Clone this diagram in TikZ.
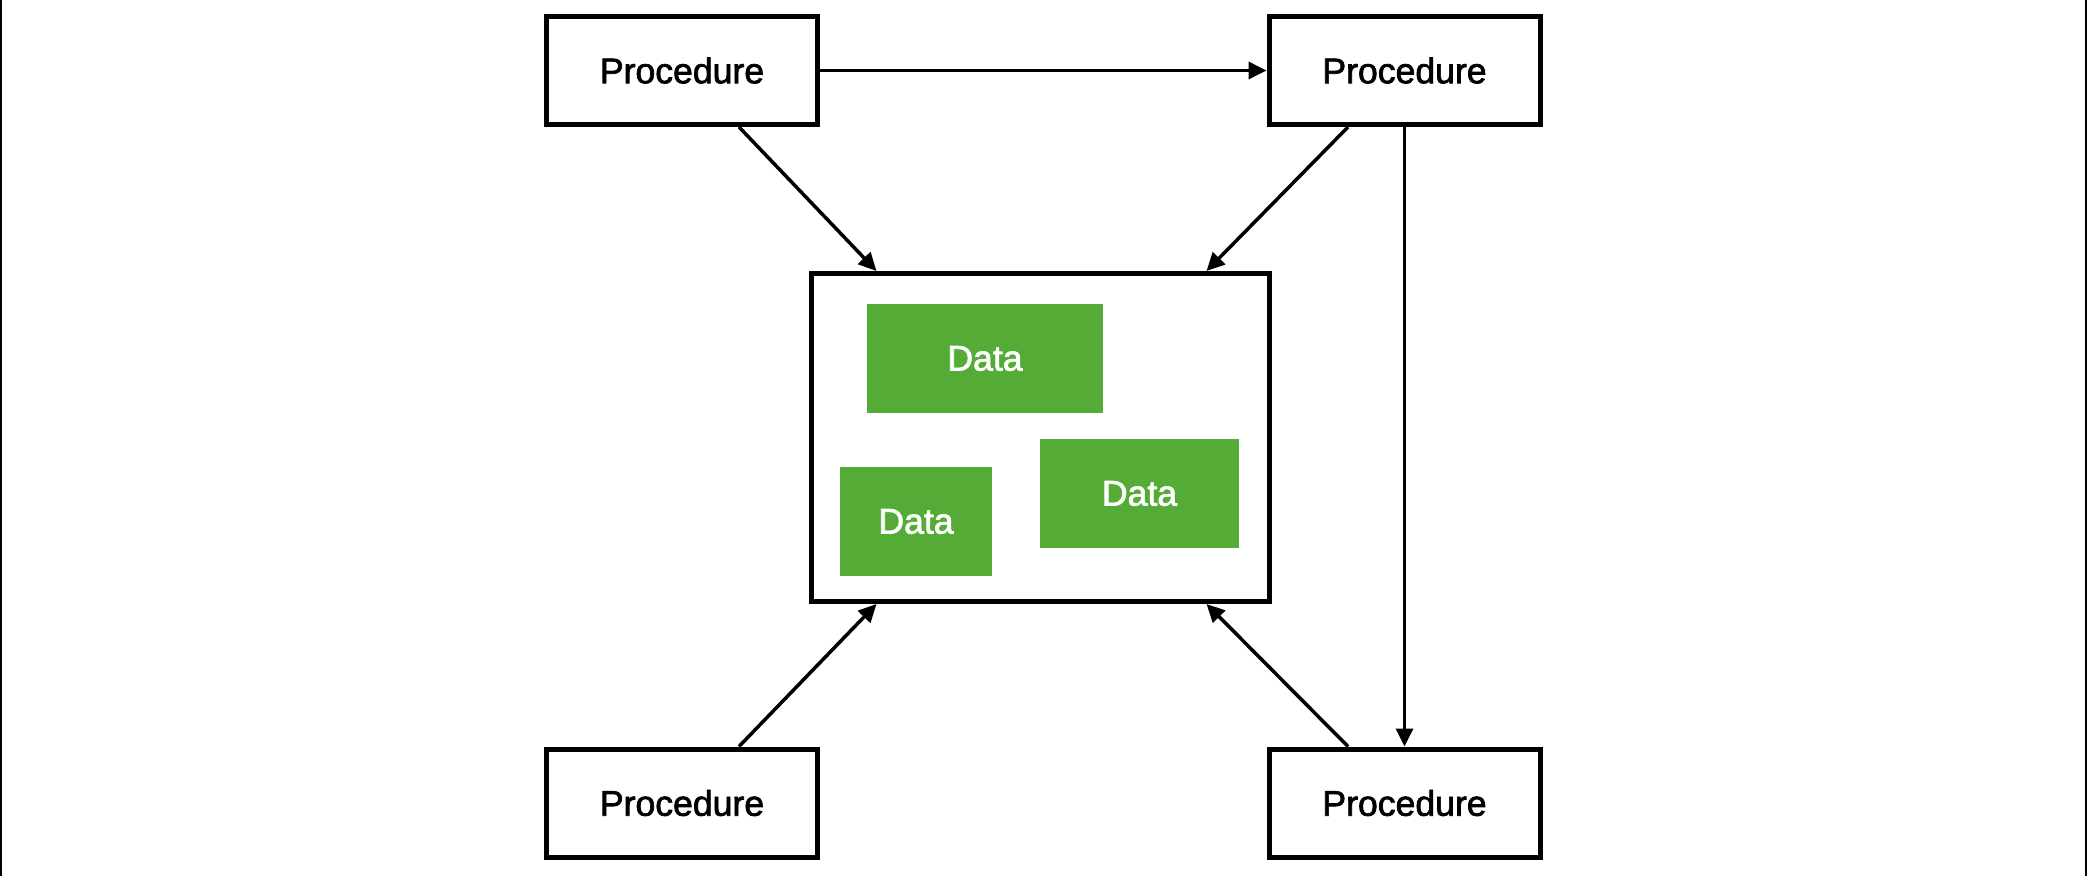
\documentclass[tikz,border=0pt]{standalone}
\usepackage{fontspec}
\usepackage{xcolor}
\usepackage{tikz}
\usetikzlibrary{arrows.meta}
\setmainfont{Liberation Sans}
\newfontfamily\labelfamily{Liberation Sans}[FakeBold=2]
\definecolor{datagreen}{RGB}{84,172,54}
\newcommand{\boxfont}{\labelfamily\fontsize{17.8}{21}\selectfont}

\begin{document}
\begin{tikzpicture}[x=0.5pt,y=-0.5pt]
\tikzstyle{every node}+=[inner sep=0pt]
\tikzstyle{proc}=[draw=black, line width=2.5pt, minimum width=135.5pt, minimum height=54pt, font=\boxfont]
\tikzstyle{data}=[fill=datagreen, text=white, minimum height=54.5pt, font=\boxfont]
\tikzstyle{link}=[black, line width=1.75pt, -{Triangle[length=9pt,width=8.5pt]}]
\useasboundingbox (0,0) rectangle (2087,876);
\draw [black, line width=1pt] (1,0) -- (1,876);
\draw [black, line width=1pt] (2086,0) -- (2086,876);
% procedures
\node [proc] (p1) at (682,70.5) {Procedure};
\node [proc] (p2) at (1404.5,70.5) {Procedure};
\node [proc] (p3) at (682,803) {Procedure};
\node [proc] (p4) at (1404.5,803) {Procedure};
% shared store
\node [draw=black, line width=2.5pt, minimum width=229pt, minimum height=164pt] (store) at (1040.5,437.5) {};
\node [data, minimum width=118pt] (d1) at (985,358.5) {Data};
\node [data, minimum width=76pt] (d2) at (916,521.5) {Data};
\node [data, minimum width=99.5pt] (d3) at (1139.5,493.5) {Data};
% arrows
\draw [link] (p1.east) -- (p2.west);
\draw [link] (p2.south) -- (p4.north);
\draw [link] ([xshift=28.5pt]p1.south) -- ([xshift=-82pt]store.north);
\draw [link] ([xshift=-28.25pt]p2.south) -- ([xshift=83pt]store.north);
\draw [link] ([xshift=28.5pt]p3.north) -- ([xshift=-82pt]store.south);
\draw [link] ([xshift=-28.25pt]p4.north) -- ([xshift=83pt]store.south);
\end{tikzpicture}
\end{document}
